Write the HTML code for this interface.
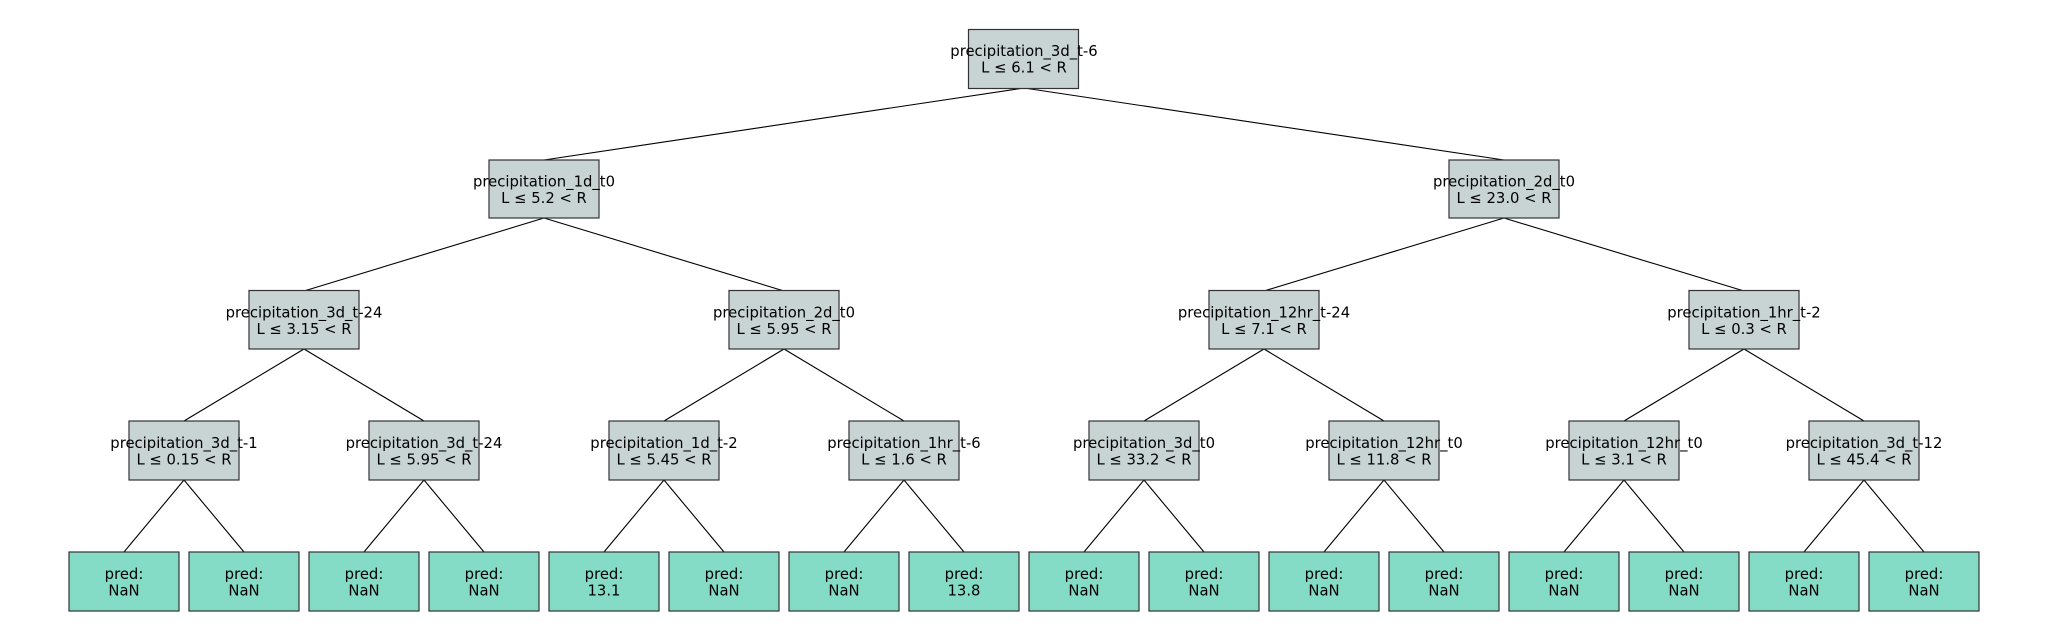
<!DOCTYPE html>
<html><head><meta charset="utf-8"><style>
html,body{margin:0;padding:0;background:#fff;}
svg{display:block}
text{font-family:"DejaVu Sans","Liberation Sans",sans-serif;font-size:14.8px;fill:#000;text-anchor:middle;dominant-baseline:central}
.g{fill:#c8d3d4;stroke:#333;stroke-width:1.2}
.l{fill:#84dbc6;stroke:#333;stroke-width:1.2}
line{stroke:#000;stroke-width:1.1}
</style></head><body>
<svg width="2048" height="640" viewBox="0 0 2048 640" xmlns="http://www.w3.org/2000/svg">
<g>
<line x1="1024" y1="88" x2="544" y2="160"/><line x1="1024" y1="88" x2="1504" y2="160"/>
<line x1="544" y1="218" x2="304" y2="291"/><line x1="544" y1="218" x2="784" y2="291"/>
<line x1="1504" y1="218" x2="1264" y2="291"/><line x1="1504" y1="218" x2="1744" y2="291"/>
<line x1="304" y1="349" x2="184" y2="421"/><line x1="304" y1="349" x2="424" y2="421"/>
<line x1="784" y1="349" x2="664" y2="421"/><line x1="784" y1="349" x2="904" y2="421"/>
<line x1="1264" y1="349" x2="1144" y2="421"/><line x1="1264" y1="349" x2="1384" y2="421"/>
<line x1="1744" y1="349" x2="1624" y2="421"/><line x1="1744" y1="349" x2="1864" y2="421"/>
<line x1="184" y1="480" x2="124" y2="552"/><line x1="184" y1="480" x2="244" y2="552"/>
<line x1="424" y1="480" x2="364" y2="552"/><line x1="424" y1="480" x2="484" y2="552"/>
<line x1="664" y1="480" x2="604" y2="552"/><line x1="664" y1="480" x2="724" y2="552"/>
<line x1="904" y1="480" x2="844" y2="552"/><line x1="904" y1="480" x2="964" y2="552"/>
<line x1="1144" y1="480" x2="1084" y2="552"/><line x1="1144" y1="480" x2="1204" y2="552"/>
<line x1="1384" y1="480" x2="1324" y2="552"/><line x1="1384" y1="480" x2="1444" y2="552"/>
<line x1="1624" y1="480" x2="1564" y2="552"/><line x1="1624" y1="480" x2="1684" y2="552"/>
<line x1="1864" y1="480" x2="1804" y2="552"/><line x1="1864" y1="480" x2="1924" y2="552"/>
</g>
<rect class="g" x="968.5" y="29.5" width="110" height="59"/>
<text x="1024" y="51.5">precipitation_3d_t-6</text><text x="1024" y="68">L ≤ 6.1 &lt; R</text>
<rect class="g" x="489" y="160" width="110" height="58"/>
<text x="544" y="182">precipitation_1d_t0</text><text x="544" y="198.5">L ≤ 5.2 &lt; R</text>
<rect class="g" x="1449" y="160" width="110" height="58"/>
<text x="1504" y="182">precipitation_2d_t0</text><text x="1504" y="198.5">L ≤ 23.0 &lt; R</text>
<rect class="g" x="249" y="290.5" width="110" height="58.5"/>
<text x="304" y="313">precipitation_3d_t-24</text><text x="304" y="329.5">L ≤ 3.15 &lt; R</text>
<rect class="g" x="729" y="290.5" width="110" height="58.5"/>
<text x="784" y="313">precipitation_2d_t0</text><text x="784" y="329.5">L ≤ 5.95 &lt; R</text>
<rect class="g" x="1209" y="290.5" width="110" height="58.5"/>
<text x="1264" y="313">precipitation_12hr_t-24</text><text x="1264" y="329.5">L ≤ 7.1 &lt; R</text>
<rect class="g" x="1689" y="290.5" width="110" height="58.5"/>
<text x="1744" y="313">precipitation_1hr_t-2</text><text x="1744" y="329.5">L ≤ 0.3 &lt; R</text>
<rect class="g" x="129" y="421" width="110" height="59"/>
<text x="184" y="443.5">precipitation_3d_t-1</text><text x="184" y="460">L ≤ 0.15 &lt; R</text>
<rect class="g" x="369" y="421" width="110" height="59"/>
<text x="424" y="443.5">precipitation_3d_t-24</text><text x="424" y="460">L ≤ 5.95 &lt; R</text>
<rect class="g" x="609" y="421" width="110" height="59"/>
<text x="664" y="443.5">precipitation_1d_t-2</text><text x="664" y="460">L ≤ 5.45 &lt; R</text>
<rect class="g" x="849" y="421" width="110" height="59"/>
<text x="904" y="443.5">precipitation_1hr_t-6</text><text x="904" y="460">L ≤ 1.6 &lt; R</text>
<rect class="g" x="1089" y="421" width="110" height="59"/>
<text x="1144" y="443.5">precipitation_3d_t0</text><text x="1144" y="460">L ≤ 33.2 &lt; R</text>
<rect class="g" x="1329" y="421" width="110" height="59"/>
<text x="1384" y="443.5">precipitation_12hr_t0</text><text x="1384" y="460">L ≤ 11.8 &lt; R</text>
<rect class="g" x="1569" y="421" width="110" height="59"/>
<text x="1624" y="443.5">precipitation_12hr_t0</text><text x="1624" y="460">L ≤ 3.1 &lt; R</text>
<rect class="g" x="1809" y="421" width="110" height="59"/>
<text x="1864" y="443.5">precipitation_3d_t-12</text><text x="1864" y="460">L ≤ 45.4 &lt; R</text>
<rect class="l" x="69" y="552" width="110" height="59"/><text x="124" y="574.5">pred:</text><text x="124" y="591">NaN</text>
<rect class="l" x="189" y="552" width="110" height="59"/><text x="244" y="574.5">pred:</text><text x="244" y="591">NaN</text>
<rect class="l" x="309" y="552" width="110" height="59"/><text x="364" y="574.5">pred:</text><text x="364" y="591">NaN</text>
<rect class="l" x="429" y="552" width="110" height="59"/><text x="484" y="574.5">pred:</text><text x="484" y="591">NaN</text>
<rect class="l" x="549" y="552" width="110" height="59"/><text x="604" y="574.5">pred:</text><text x="604" y="591">13.1</text>
<rect class="l" x="669" y="552" width="110" height="59"/><text x="724" y="574.5">pred:</text><text x="724" y="591">NaN</text>
<rect class="l" x="789" y="552" width="110" height="59"/><text x="844" y="574.5">pred:</text><text x="844" y="591">NaN</text>
<rect class="l" x="909" y="552" width="110" height="59"/><text x="964" y="574.5">pred:</text><text x="964" y="591">13.8</text>
<rect class="l" x="1029" y="552" width="110" height="59"/><text x="1084" y="574.5">pred:</text><text x="1084" y="591">NaN</text>
<rect class="l" x="1149" y="552" width="110" height="59"/><text x="1204" y="574.5">pred:</text><text x="1204" y="591">NaN</text>
<rect class="l" x="1269" y="552" width="110" height="59"/><text x="1324" y="574.5">pred:</text><text x="1324" y="591">NaN</text>
<rect class="l" x="1389" y="552" width="110" height="59"/><text x="1444" y="574.5">pred:</text><text x="1444" y="591">NaN</text>
<rect class="l" x="1509" y="552" width="110" height="59"/><text x="1564" y="574.5">pred:</text><text x="1564" y="591">NaN</text>
<rect class="l" x="1629" y="552" width="110" height="59"/><text x="1684" y="574.5">pred:</text><text x="1684" y="591">NaN</text>
<rect class="l" x="1749" y="552" width="110" height="59"/><text x="1804" y="574.5">pred:</text><text x="1804" y="591">NaN</text>
<rect class="l" x="1869" y="552" width="110" height="59"/><text x="1924" y="574.5">pred:</text><text x="1924" y="591">NaN</text>
</svg>
</body></html>
